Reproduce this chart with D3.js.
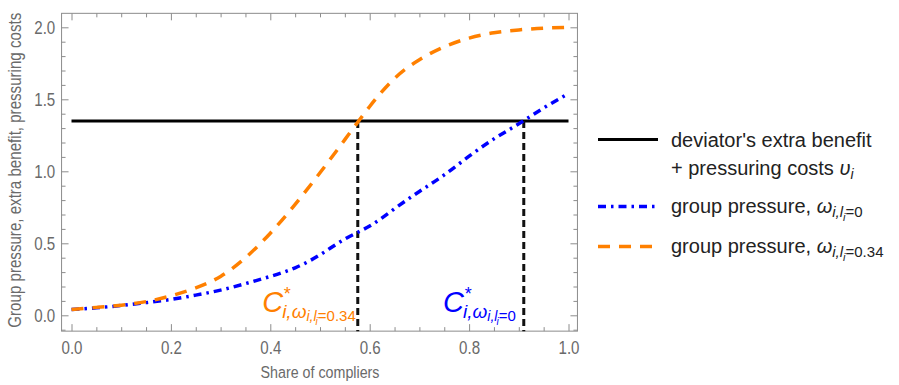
<!DOCTYPE html>
<html><head><meta charset="utf-8">
<script src="https://cdn.jsdelivr.net/npm/d3@7/dist/d3.min.js"></script>
<style>body{margin:0;background:#fff} svg{display:block}</style>
</head><body><svg id="c" width="899" height="385"></svg>
<script>
// ---- data ----
const shares      = [0, 0.05, 0.1, 0.15, 0.2, 0.25, 0.3, 0.35, 0.4, 0.45, 0.5, 0.55, 0.6, 0.65, 0.7, 0.75, 0.8, 0.85, 0.9, 0.95, 1.0];
const pressureL0  = [0.04, 0.052, 0.068, 0.088, 0.11, 0.14, 0.175, 0.22, 0.27, 0.33, 0.42, 0.53, 0.62, 0.74, 0.86, 0.975, 1.105, 1.225, 1.33, 1.44, 1.54];
const pressureL034= [0.04, 0.055, 0.07, 0.095, 0.135, 0.19, 0.27, 0.40, 0.57, 0.77, 0.99, 1.22, 1.45, 1.645, 1.775, 1.865, 1.925, 1.962, 1.982, 1.994, 2.0];
const benefitCost = 1.35;
const crossings   = [0.576, 0.91];   // orange, blue
const xTicks = [0, 0.2, 0.4, 0.6, 0.8, 1.0];
const yTicks = [0, 0.5, 1.0, 1.5, 2.0];
const xTitle = "Share of compliers";
const yTitle = "Group pressure, extra benefit, pressuring costs";

const ORANGE = "#ff8000", BLUE = "#0000ff", FRAME = "#8c8c8c", LABEL = "#6a6a6a";
const sans = "'Liberation Sans',Arial,sans-serif";
const SQ = 0.84; // horizontal condensing of frame labels

const svg = d3.select("#c");
const x = d3.scaleLinear().domain([0, 1]).range([71.5, 568.5]);
const y = d3.scaleLinear().domain([0, 2]).range([315.3, 27.3]);
const fx0 = x(-0.02), fx1 = x(1.018), fy0 = y(-0.11), fy1 = y(2.097);

// frame
svg.append("rect").attr("x", fx0).attr("y", fy1).attr("width", fx1 - fx0).attr("height", fy0 - fy1)
  .attr("fill", "none").attr("stroke", FRAME).attr("stroke-width", 1);

const xMinor = d3.range(0, 1.0001, 0.05).filter(v => Math.abs(v * 5 - Math.round(v * 5)) > 1e-6);
const yMinor = d3.range(-0.1, 2.0501, 0.1).filter(v => Math.abs(v * 2 - Math.round(v * 2)) > 1e-6);

function styleAxis(g) {
  g.select(".domain").remove();
  g.selectAll(".tick line").attr("stroke", FRAME);
  g.selectAll("text").attr("fill", LABEL).attr("font-family", sans).attr("font-size", 18)
    .attr("transform", `scale(${SQ},1)`);
}
// bottom
svg.append("g").attr("transform", `translate(0,${fy0})`)
  .call(d3.axisBottom(x).tickValues(xTicks).tickFormat(d3.format(".1f")).tickSize(-7).tickPadding(10)).call(styleAxis);
svg.append("g").attr("transform", `translate(0,${fy0})`)
  .call(d3.axisBottom(x).tickValues(xMinor).tickFormat("").tickSize(-4)).call(styleAxis);
// top
svg.append("g").attr("transform", `translate(0,${fy1})`)
  .call(d3.axisTop(x).tickValues(xTicks).tickFormat("").tickSize(-7)).call(styleAxis);
svg.append("g").attr("transform", `translate(0,${fy1})`)
  .call(d3.axisTop(x).tickValues(xMinor).tickFormat("").tickSize(-4)).call(styleAxis);
// left
svg.append("g").attr("transform", `translate(${fx0},0)`)
  .call(d3.axisLeft(y).tickValues(yTicks).tickFormat(d3.format(".1f")).tickSize(-7).tickPadding(7.5)).call(styleAxis);
svg.append("g").attr("transform", `translate(${fx0},0)`)
  .call(d3.axisLeft(y).tickValues(yMinor).tickFormat("").tickSize(-4)).call(styleAxis);
// right
svg.append("g").attr("transform", `translate(${fx1},0)`)
  .call(d3.axisRight(y).tickValues(yTicks).tickFormat("").tickSize(-7)).call(styleAxis);
svg.append("g").attr("transform", `translate(${fx1},0)`)
  .call(d3.axisRight(y).tickValues(yMinor).tickFormat("").tickSize(-4)).call(styleAxis);

// titles
svg.append("text").attr("transform", `translate(${(x(0) + x(1)) / 2},378) scale(${SQ},1)`).attr("text-anchor", "middle")
  .attr("fill", LABEL).attr("font-family", sans).attr("font-size", 17).text(xTitle);
svg.append("text").attr("transform", `translate(21,${(fy0 + fy1) / 2 - 2}) rotate(-90) scale(${SQ},1)`).attr("text-anchor", "middle")
  .attr("fill", LABEL).attr("font-family", sans).attr("font-size", 18).text(yTitle);

// benefit line
svg.append("line").attr("x1", x(0)).attr("x2", x(1)).attr("y1", y(benefitCost)).attr("y2", y(benefitCost))
  .attr("stroke", "#000").attr("stroke-width", 3);
// vertical dashed lines
svg.selectAll(".vline").data(crossings).join("line").attr("class", "vline")
  .attr("x1", d => x(d)).attr("x2", d => x(d)).attr("y1", y(benefitCost)).attr("y2", fy0)
  .attr("stroke", "#111").attr("stroke-width", 3).attr("stroke-dasharray", "7,4");

// curves
const line = d3.line().x((d, i) => x(shares[i])).y(d => y(d)).curve(d3.curveNatural);
svg.append("path").attr("d", line(pressureL0)).attr("fill", "none").attr("stroke", BLUE)
  .attr("stroke-width", 3.5).attr("stroke-dasharray", "8,5,2.5,5");
svg.append("path").attr("d", line(pressureL034)).attr("fill", "none").attr("stroke", ORANGE)
  .attr("stroke-width", 3.5).attr("stroke-dasharray", "12,9");

// annotations C*
function annot(xEnd, baseY, color, val) {
  const t = svg.append("text").attr("x", xEnd).attr("y", baseY).attr("text-anchor", "end")
    .attr("fill", color).attr("font-family", sans).attr("font-style", "italic");
  t.append("tspan").attr("font-size", 29).text("C");
  t.append("tspan").attr("font-size", 18).attr("dy", -12).attr("dx", 0).text("*");
  t.append("tspan").attr("font-size", 19).attr("dy", 18).attr("dx", -8).text("i,ω");
  t.append("tspan").attr("font-size", 14).attr("dy", 3).text("i,l");
  t.append("tspan").attr("font-size", 10).attr("dy", 4).attr("dx", -1).text("i");
  t.append("tspan").attr("font-size", 15).attr("dy", -4).attr("font-style", "normal").text("=" + val);
}
annot(x(crossings[0]) - 2, 312, ORANGE, "0.34");
annot(x(crossings[1]) - 8, 312, BLUE, "0");

// legend
const lx0 = 598, lx1 = 658, tx = 671;
const leg = svg.append("g").attr("font-family", sans).attr("font-size", 20).attr("fill", "#222");
leg.append("line").attr("x1", lx0).attr("x2", lx1).attr("y1", 139.5).attr("y2", 139.5).attr("stroke", "#000").attr("stroke-width", 3);
leg.append("text").attr("x", tx).attr("y", 147).text("deviator's extra benefit");
const t2 = leg.append("text").attr("x", tx).attr("y", 175);
t2.append("tspan").text("+ pressuring costs ");
t2.append("tspan").attr("font-style", "italic").text("υ");
t2.append("tspan").attr("font-style", "italic").attr("font-size", 14).attr("dy", 4).text("i");

leg.append("line").attr("x1", lx0).attr("x2", lx1).attr("y1", 206.5).attr("y2", 206.5).attr("stroke", BLUE)
  .attr("stroke-width", 3.5).attr("stroke-dasharray", "8,5,2.5,5");
leg.append("line").attr("x1", lx0).attr("x2", lx1).attr("y1", 246.5).attr("y2", 246.5).attr("stroke", ORANGE)
  .attr("stroke-width", 3.5).attr("stroke-dasharray", "12,9");

function legText(yb, val) {
  const t = leg.append("text").attr("x", tx).attr("y", yb);
  t.append("tspan").text("group pressure, ");
  t.append("tspan").attr("font-style", "italic").text("ω");
  t.append("tspan").attr("font-style", "italic").attr("font-size", 15).attr("dy", 4).text("i,l");
  t.append("tspan").attr("font-style", "italic").attr("font-size", 11).attr("dy", 4).text("i");
  t.append("tspan").attr("font-size", 15).attr("dy", -4).text("=" + val);
}
legText(213, "0");
legText(253, "0.34");
</script></body></html>
